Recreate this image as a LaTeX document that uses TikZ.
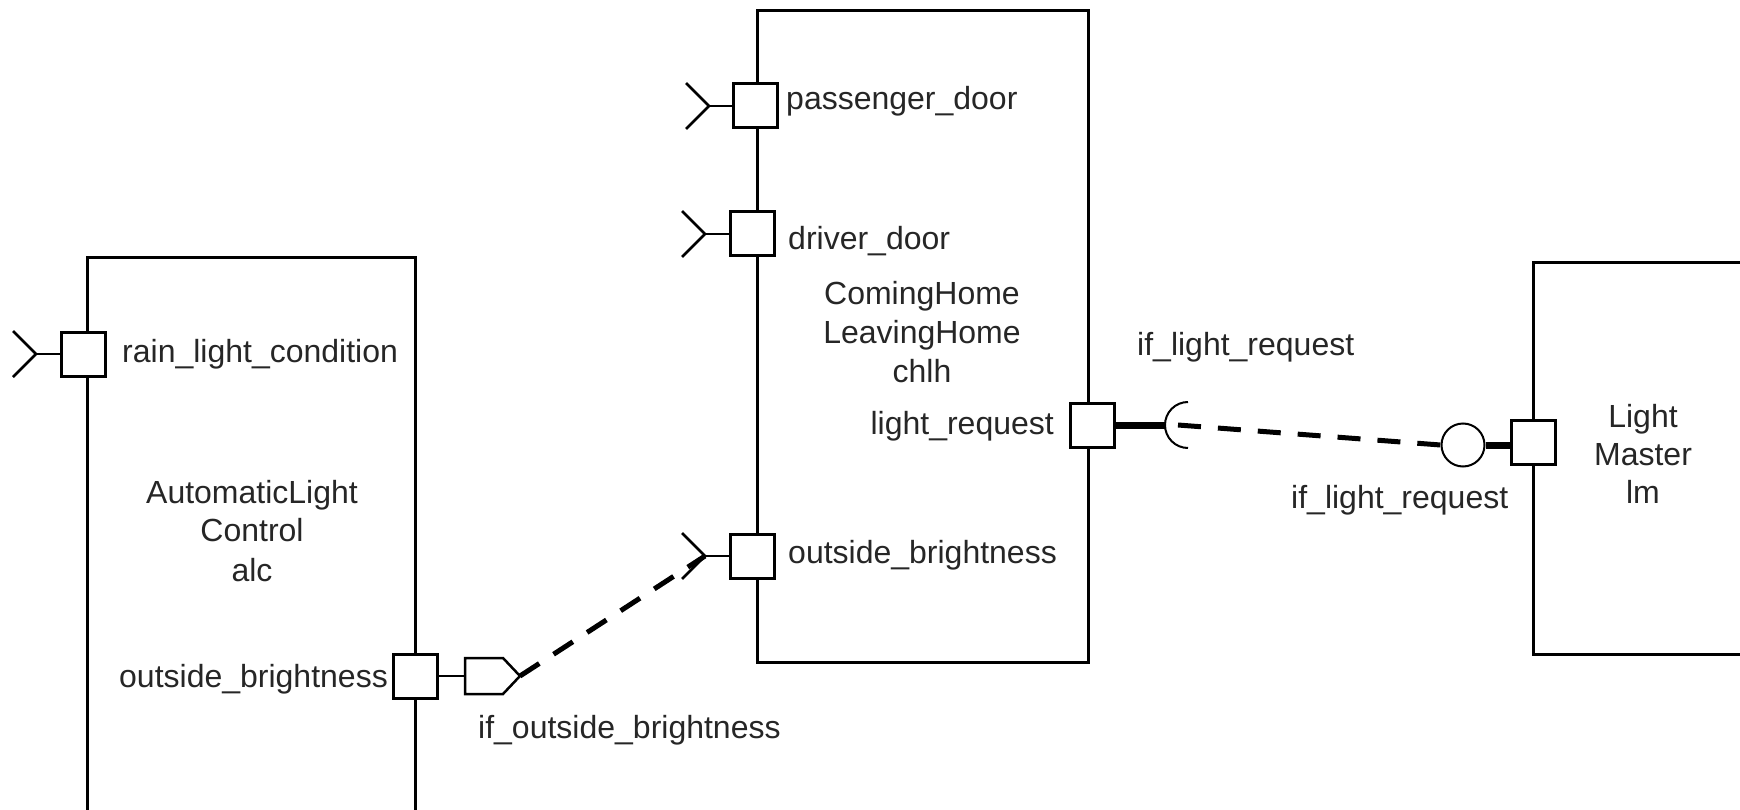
\documentclass[tikz,border=0pt]{standalone}
\usepackage{fontspec}
\setmainfont{Liberation Sans}
\begin{document}
\begin{tikzpicture}[x=1pt,y=-1pt,
  comp/.style={draw, line width=3pt, inner sep=0pt},
  port/.style={draw, line width=3pt, fill=white, minimum size=44pt, inner sep=0pt},
  lbl/.style={inner sep=0pt, font=\fontsize{32}{38}\selectfont, text=black!85},
  forkline/.style={line width=2.5pt},
  dashconn/.style={line width=5pt, dash pattern=on 23pt off 17pt},
  thickconn/.style={line width=7pt},
  thinline/.style={line width=2pt}]
\useasboundingbox (0,0) rectangle (1740,810);
\clip (0,0) rectangle (1740,810);

% components
\node[comp, minimum width=328pt, minimum height=600pt] (alc) at (251,558) {};
\node[comp, minimum width=331pt, minimum height=651pt] (chlh) at (922.5,336.5) {};
\node[comp, minimum width=240pt, minimum height=391pt] (lm) at (1653,458.5) {};

% component names
\node[lbl, anchor=base] (alc1) at (252,503) {AutomaticLight};
\node[lbl, anchor=base] (alc2) at (252,541) {Control};
\node[lbl, anchor=base] (alc3) at (252,581) {alc};
\node[lbl, anchor=base] (ch1) at (922,305) {ComingHome};
\node[lbl, anchor=base] (ch2) at (922,343) {LeavingHome};
\node[lbl, anchor=base] (ch3) at (922,382) {chlh};
\node[lbl, anchor=base] (lm1) at (1643,427) {Light};
\node[lbl, anchor=base] (lm2) at (1643,465) {Master};
\node[lbl, anchor=base] (lm3) at (1643,503) {lm};

% ports
\node[port] (prlc) at (83.5,354) {};
\node[port] (palc) at (415,676) {};
\node[port] (ppd) at (755,106) {};
\node[port] (pdd) at (752,234) {};
\node[port] (pcob) at (752,556) {};
\node[port] (plr) at (1092,425) {};
\node[port] (plm) at (1533,442) {};

% port labels
\node[lbl, anchor=base west] (trlc) at (122,362) {rain\_light\_condition};
\node[lbl, anchor=base east] (talc) at (388,687) {outside\_brightness};
\node[lbl, anchor=base west] (tpd) at (786,110) {passenger\_door};
\node[lbl, anchor=base west] (tdd) at (788,250) {driver\_door};
\node[lbl, anchor=base west] (tcob) at (788,563) {outside\_brightness};
\node[lbl, anchor=base east] (tlr) at (1054,434) {light\_request};
\node[lbl, anchor=base west] (tiob) at (478,738) {if\_outside\_brightness};
\node[lbl, anchor=base west] (tilr1) at (1137,355) {if\_light\_request};
\node[lbl, anchor=base west] (tilr2) at (1291,508) {if\_light\_request};

% required ports (forks)
\coordinate (frlc) at (36,354);
\coordinate (fpd) at (709,106);
\coordinate (fdd) at (705,234);
\coordinate (fcob) at (705,556);
\foreach \f/\p in {frlc/prlc, fpd/ppd, fdd/pdd, fcob/pcob}{
  \draw[forkline] (\f) ++(-23,-23) -- (\f) -- ++(-23,23);
  \draw[forkline] (\f) -- (\p.west);
}

% provided interface (pentagon)
\coordinate (pentl) at (465,676);
\coordinate (pent) at (520,676);
\draw[forkline] (palc.east) -- (pentl);
\draw[forkline, line join=miter] (465,658) -- (503,658) -- (pent) -- (503,694) -- (465,694) -- cycle;
\draw[dashconn] (pent) -- (fcob);

% socket and ball
\coordinate (sock) at (1165,425);
\coordinate (sockin) at (1178,425);
\draw[thickconn] (plr.east) -- (sock);
\draw[thinline] (1188,402) arc[start angle=270, end angle=90, radius=23];
\node[circle, draw, thinline, minimum size=43pt, inner sep=0pt] (ball) at (1463,445) {};
\draw[thickconn] (ball.east) -- (ball.east -| plm.west);
\draw[dashconn] (sockin) -- (ball.west);
\end{tikzpicture}
\end{document}
